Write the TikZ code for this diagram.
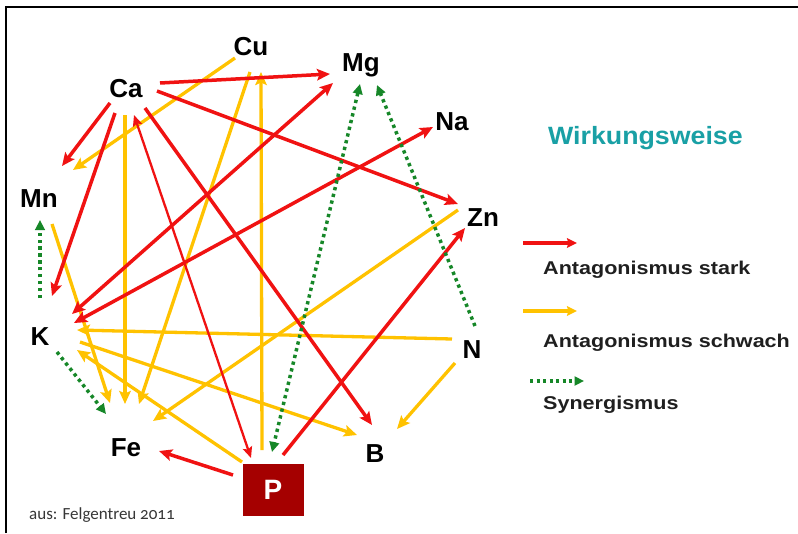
\documentclass[tikz,border=0pt]{standalone}
\usepackage{fontspec}
\setmainfont{Liberation Sans}
\newfontfamily\footfont[Numbers=OldStyle]{Carlito}
\usetikzlibrary{arrows.meta}
\definecolor{sred}{RGB}{240,18,18}
\definecolor{syel}{RGB}{255,194,0}
\definecolor{sgrn}{RGB}{22,135,40}
\definecolor{steal}{RGB}{25,160,165}
\definecolor{pbox}{RGB}{165,0,0}
\definecolor{foot}{RGB}{55,55,55}
\tikzset{
  rtip/.tip={Stealth[length=13pt,width=11.5pt,inset=2.5pt]},
  stip/.tip={Stealth[length=11pt,width=9.5pt,inset=2pt]},
  gtip/.tip={Triangle[length=10pt,width=9.5pt]},
}
\begin{document}
\begin{tikzpicture}[x=1pt,y=-1pt,
  elem/.style={font=\fontsize{26}{26}\selectfont\bfseries, inner sep=0pt, anchor=base},
  legtext/.style={font=\fontsize{18.5}{18.5}\selectfont\bfseries, inner sep=0pt, anchor=base west, text=black!88},
  strong/.style={draw=sred, line width=3.5pt, -rtip},
  strongboth/.style={draw=sred, line width=3.5pt, rtip-rtip},
  thinboth/.style={draw=sred, line width=2.3pt, stip-stip},
  weak/.style={draw=syel, line width=3.3pt, -rtip},
  syn/.style={draw=sgrn, line width=3.5pt, dash pattern=on 3.3pt off 3.6pt, -gtip},
  synboth/.style={draw=sgrn, line width=3.5pt, dash pattern=on 3.3pt off 3.6pt, gtip-gtip},
]
\useasboundingbox (0,0) rectangle (798,533);
\fill[white] (0,0) rectangle (798,533);
% frame
\draw[line width=2.2pt, black] (6,533) -- (6,7) -- (798,7);

% element nodes
\node[elem] (Cu) at (251,55) {Cu};
\node[elem] (Mg) at (361,71) {Mg};
\node[elem] (Ca) at (126,97) {Ca};
\node[elem] (Na) at (452,130) {Na};
\node[elem] (Mn) at (39,207) {Mn};
\node[elem] (Zn) at (483,226) {Zn};
\node[elem] (K)  at (40,345) {K};
\node[elem] (N)  at (472,358) {N};
\node[elem] (Fe) at (126,456) {Fe};
\node[elem] (B)  at (375,462) {B};
\node[fill=pbox, minimum width=61pt, minimum height=52pt, inner sep=0pt,
      text=white, font=\fontsize{28}{28}\selectfont\bfseries] (P) at (273,490) {P};

% yellow: Antagonismus schwach
\draw[weak] ([shift={(-16,3)}]Cu.base) -- ([shift={(34,-37)}]Mn.base);
\draw[weak] ([shift={(-1,17)}]Cu.base) -- ([shift={(13,-52)}]Fe.base);
\draw[weak] ([shift={(-11,-40)}]P.center) -- ([shift={(10,17)}]Cu.base);
\draw[weak] ([shift={(-1,18)}]Ca.base) -- ([shift={(-1,-52)}]Fe.base);
\draw[weak] ([shift={(13,17)}]Mn.base) -- ([shift={(-16,-53)}]Fe.base);
\draw[weak] ([shift={(-25,-16)}]Zn.base) -- ([shift={(27,-35)}]Fe.base);
\draw[weak] ([shift={(-20,-19)}]N.base) -- ([shift={(37,-15)}]K.base);
\draw[weak] ([shift={(40,-3)}]K.base) -- ([shift={(-18,-27)}]B.base);
\draw[weak] ([shift={(-31,-28)}]P.center) -- ([shift={(37,5)}]K.base);
\draw[weak] ([shift={(-17,5)}]N.base) -- ([shift={(22,-33)}]B.base);

% red: Antagonismus stark
\draw[strong] ([shift={(34,-14)}]Ca.base) -- ([shift={(-31,3)}]Mg.base);
\draw[strong] ([shift={(31,-6)}]Ca.base) -- ([shift={(-25,-22)}]Zn.base);
\draw[strong] ([shift={(-16,6)}]Ca.base) -- ([shift={(23,-41)}]Mn.base);
\draw[strong] ([shift={(-11,16)}]Ca.base) -- ([shift={(12,-49)}]K.base);
\draw[thinboth] ([shift={(8,18)}]Ca.base) -- ([shift={(-22,-32)}]P.center);
\draw[strong] ([shift={(19,11)}]Ca.base) -- ([shift={(-3,-37)}]B.base);
\draw[strongboth] ([shift={(-28,12)}]Mg.base) -- ([shift={(32,-31)}]K.base);
\draw[strongboth] ([shift={(-19,-3)}]Na.base) -- ([shift={(34,-22)}]K.base);
\draw[strong] ([shift={(-40,-15)}]P.center) -- ([shift={(33,-5)}]Fe.base);
\draw[strong] ([shift={(10,-35)}]P.center) -- ([shift={(-18,2)}]Zn.base);

% green: Synergismus
\draw[syn] ([shift={(0,-47)}]K.base) -- ([shift={(1,13)}]Mn.base);
\draw[syn] ([shift={(17,7)}]K.base) -- ([shift={(-20,-42)}]Fe.base);
\draw[synboth] ([shift={(-1,13)}]Mg.base) -- ([shift={(-1,-38)}]P.center);
\draw[syn] ([shift={(3,-32)}]N.base) -- ([shift={(16,14)}]Mg.base);

% title
\node[font=\fontsize{25}{25}\selectfont\bfseries, text=steal, inner sep=0pt, anchor=base west]
  (title) at (548,144) {\scalebox{1.07}[1]{Wirkungsweise}};

% legend
\coordinate (l1a) at (523,243); \coordinate (l1b) at (577,243);
\coordinate (l2a) at (523,311); \coordinate (l2b) at (577,311);
\coordinate (l3a) at (530,381); \coordinate (l3b) at (584,381);
\draw[draw=sred, line width=3.3pt, -{Stealth[length=10pt,width=9.5pt,inset=1.5pt]}] (l1a) -- (l1b);
\draw[draw=syel, line width=3.3pt, -{Stealth[length=10pt,width=9.5pt,inset=1.5pt]}] (l2a) -- (l2b);
\draw[draw=sgrn, line width=3.3pt, dash pattern=on 3pt off 3.5pt, -{Triangle[length=9.5pt,width=9pt]}] (l3a) -- (l3b);
\node[legtext] (lt1) at (543,274) {\scalebox{1.165}[1]{Antagonismus stark}};
\node[legtext] (lt2) at (543,347) {\scalebox{1.165}[1]{Antagonismus schwach}};
\node[legtext] (lt3) at (543,409) {\scalebox{1.165}[1]{Synergismus}};

% footer
\node[font=\footfont\fontsize{17}{17}\selectfont, text=foot, inner sep=0pt, anchor=base west]
  (src) at (29,519) {aus: Felgentreu 2011};
\end{tikzpicture}
\end{document}
